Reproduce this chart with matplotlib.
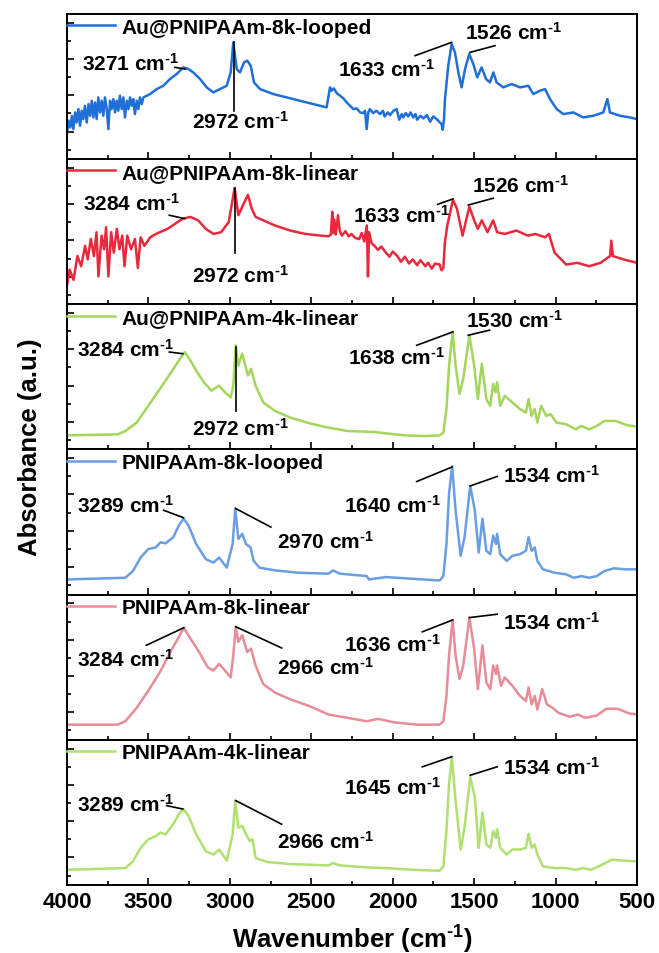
import matplotlib
matplotlib.use('Agg')
import matplotlib.pyplot as plt
from matplotlib.ticker import FixedLocator, MultipleLocator

plt.rcParams.update({
    'font.family': ['Liberation Sans', 'DejaVu Sans'],
    'font.weight': 'bold',
    'mathtext.fontset': 'custom',
    'mathtext.rm': 'Liberation Sans:bold',
    'mathtext.bf': 'Liberation Sans:bold',
    'mathtext.it': 'Liberation Sans:bold:italic',
    'axes.linewidth': 1.4,
})

labels = ['Au@PNIPAAm-8k-looped', 'Au@PNIPAAm-8k-linear', 'Au@PNIPAAm-4k-linear',
          'PNIPAAm-8k-looped', 'PNIPAAm-8k-linear', 'PNIPAAm-4k-linear']
colors = ['#1f6fd8', '#e8283c', '#a3d65a', '#6a9ee2', '#e88c98', '#b0e070']
x_ticks = [4000, 3500, 3000, 2500, 2000, 1500, 1000, 500]

# ---- spectra (wavenumber, absorbance in arbitrary units) ----
wn_au8k_looped = [4000, 3990, 3980, 3970, 3961, 3950, 3941, 3930, 3920, 3910, 3900, 3890, 3879, 3868,
                  3858, 3848, 3838, 3828, 3818, 3808, 3797, 3787, 3777, 3767, 3756, 3746, 3736, 3726,
                  3715, 3705, 3695, 3685, 3675, 3664, 3654, 3644, 3633, 3623, 3613, 3603, 3593, 3583,
                  3572, 3562, 3552, 3541, 3531, 3490, 3449, 3408, 3368, 3327, 3286, 3255, 3225,
                  3183, 3142, 3102, 3061, 3019, 2995, 2979, 2958, 2938, 2913, 2893, 2872, 2852, 2815,
                  2733, 2651, 2569, 2488, 2406, 2385, 2375, 2362, 2344, 2324, 2303, 2283, 2262, 2242,
                  2221, 2200, 2181, 2170, 2160, 2150, 2140, 2120, 2100, 2078, 2060, 2050, 2030, 2017,
                  1995, 1976, 1960, 1945, 1935, 1920, 1905, 1890, 1874, 1860, 1850, 1830, 1812, 1790,
                  1770, 1751, 1730, 1715, 1700, 1693, 1685, 1679, 1659, 1638, 1618, 1597, 1577, 1556,
                  1530, 1505, 1481, 1454, 1427, 1403, 1382, 1362, 1321, 1270, 1218, 1167, 1137, 1096,
                  1065, 1034, 993, 952, 891, 830, 768, 707, 682, 666, 604, 543, 500]
ab_au8k_looped = [80, 115, 95, 130, 90, 140, 110, 150, 100, 145, 120, 160, 110, 165,
                  130, 175, 125, 170, 120, 185, 140, 175, 130, 185, 150, 90, 175, 150,
                  180, 140, 175, 145, 190, 150, 185, 125, 175, 150, 185, 160, 180, 135,
                  175, 150, 185, 165, 185, 195, 210, 220, 240, 255, 275, 270, 260,
                  240, 215, 200, 210, 220, 260, 350, 270, 260, 290, 295, 280, 230, 210,
                  195, 185, 175, 165, 155, 215, 205, 212, 198, 190, 182, 170, 160, 150,
                  152, 140, 138, 145, 90, 140, 150, 138, 145, 135, 145, 128, 140, 132,
                  145, 150, 118, 135, 125, 138, 128, 140, 125, 135, 118, 130, 122, 132,
                  112, 128, 120, 112, 105, 88, 120, 180, 280, 345, 320, 260, 215, 270,
                  315, 285, 245, 275, 240, 230, 260, 230, 215, 225, 215, 220, 195, 205,
                  210, 180, 150, 135, 140, 125, 130, 140, 180, 140, 130, 125, 120]

wn_au8k_linear = [4000, 3984, 3960, 3936, 3913, 3889, 3873, 3854, 3835, 3819, 3807, 3788, 3772, 3760,
                  3746, 3729, 3713, 3694, 3678, 3661, 3647, 3630, 3607, 3583, 3565, 3548, 3525, 3489,
                  3454, 3430, 3383, 3336, 3289, 3242, 3195, 3148, 3101, 3054, 3007, 2971, 2948, 2924,
                  2889, 2866, 2842, 2795, 2724, 2630, 2536, 2442, 2395, 2380, 2371, 2365, 2360, 2350,
                  2336, 2325, 2312, 2290, 2270, 2254, 2230, 2206, 2190, 2175, 2159, 2152, 2145, 2130,
                  2112, 2090, 2070, 2042, 2020, 2000, 1971, 1950, 1925, 1900, 1877, 1850, 1830, 1800,
                  1783, 1760, 1740, 1712, 1700, 1689, 1680, 1665, 1630, 1606, 1571, 1547, 1529, 1500,
                  1477, 1453, 1418, 1383, 1359, 1312, 1241, 1171, 1124, 1065, 1041, 1006, 935, 865,
                  794, 724, 665, 658, 648, 582, 500]
ab_au8k_linear = [57, 102, 72, 142, 112, 172, 132, 192, 142, 212, 82, 202, 162, 227,
                  82, 212, 152, 222, 162, 202, 112, 202, 162, 192, 107, 197, 172, 197,
                  207, 212, 222, 237, 252, 257, 247, 222, 207, 212, 242, 342, 262, 287,
                  322, 282, 257, 247, 232, 217, 207, 202, 200, 205, 272, 210, 250, 205,
                  262, 215, 202, 215, 200, 207, 195, 192, 210, 185, 232, 82, 212, 180,
                  172, 160, 170, 152, 140, 155, 142, 125, 140, 120, 132, 115, 130, 112,
                  122, 105, 120, 117, 100, 107, 180, 232, 307, 282, 202, 252, 287, 247,
                  222, 247, 212, 247, 212, 207, 217, 202, 207, 197, 207, 152, 117, 122,
                  112, 122, 142, 187, 142, 132, 122]

wn_au4k_linear = [4000, 3689, 3642, 3572, 3501, 3430, 3360, 3313, 3277, 3242, 3207, 3160, 3113, 3066,
                  3030, 2995, 2979, 2964, 2948, 2924, 2889, 2870, 2842, 2795, 2724, 2630, 2512, 2395,
                  2277, 2112, 2042, 1924, 1806, 1712, 1689, 1670, 1654, 1632, 1614, 1590, 1567, 1529,
                  1500, 1477, 1453, 1425, 1401, 1383, 1369, 1359, 1340, 1312, 1265, 1218, 1182, 1166,
                  1147, 1128, 1112, 1088, 1058, 1030, 994, 935, 877, 841, 794, 747, 700, 630, 559, 500]
ab_au4k_linear = [42, 45, 55, 80, 130, 180, 230, 265, 290, 265, 235, 200, 175, 190,
                  170, 155, 190, 310, 250, 285, 220, 240, 190, 140, 115, 95, 78, 65,
                  55, 52, 48, 42, 40, 42, 50, 120, 250, 350, 250, 165, 210, 340,
                  250, 150, 255, 150, 130, 195, 170, 200, 130, 160, 140, 120, 110, 150,
                  100, 120, 80, 130, 100, 105, 80, 75, 60, 70, 60, 70, 85, 85, 72, 68]

wn_p8k_looped = [4000, 3642, 3595, 3548, 3501, 3454, 3426, 3395, 3348, 3313, 3285, 3254, 3207, 3148,
                 3101, 3066, 3019, 2983, 2967, 2948, 2924, 2901, 2873, 2854, 2818, 2724, 2583, 2395,
                 2367, 2324, 2159, 2147, 2042, 1877, 1712, 1689, 1670, 1654, 1635, 1614, 1583, 1559,
                 1524, 1496, 1472, 1449, 1425, 1401, 1383, 1366, 1359, 1340, 1300, 1265, 1218, 1182,
                 1166, 1147, 1128, 1112, 1077, 1006, 935, 888, 841, 794, 747, 700, 641, 571, 500]
ab_p8k_looped = [45, 50, 70, 110, 135, 140, 155, 152, 170, 205, 225, 205, 150, 105,
                 95, 110, 80, 150, 255, 165, 180, 150, 140, 100, 80, 72, 65, 62,
                 72, 62, 55, 45, 52, 47, 42, 55, 150, 300, 380, 250, 115, 170,
                 322, 250, 125, 225, 130, 120, 175, 150, 180, 120, 100, 115, 120, 130,
                 170, 130, 140, 100, 75, 65, 60, 50, 55, 50, 55, 70, 78, 75, 75]

wn_p8k_linear = [4000, 3689, 3642, 3572, 3501, 3430, 3360, 3313, 3283, 3242, 3195, 3136, 3101, 3066,
                 3030, 2995, 2979, 2964, 2948, 2924, 2894, 2870, 2842, 2795, 2724, 2630, 2512, 2395,
                 2277, 2159, 2089, 1995, 1853, 1712, 1689, 1670, 1654, 1632, 1614, 1590, 1567, 1529,
                 1500, 1477, 1449, 1425, 1401, 1383, 1366, 1359, 1335, 1312, 1265, 1218, 1182, 1166,
                 1147, 1128, 1112, 1082, 1053, 1018, 983, 912, 865, 818, 747, 688, 618, 547, 500]
ab_p8k_linear = [45, 45, 55, 95, 145, 200, 265, 305, 332, 300, 265, 215, 205, 225,
                 205, 185, 250, 335, 290, 310, 260, 270, 220, 165, 140, 120, 100, 75,
                 65, 55, 62, 52, 45, 45, 55, 130, 250, 355, 250, 180, 220, 362,
                 270, 150, 280, 170, 150, 220, 195, 220, 160, 185, 160, 130, 115, 155,
                 105, 130, 90, 150, 105, 95, 80, 68, 75, 65, 72, 92, 92, 78, 75]

wn_p4k_linear = [4000, 3642, 3595, 3548, 3501, 3454, 3426, 3395, 3348, 3313, 3285, 3254, 3207, 3148,
                 3101, 3066, 3019, 2983, 2967, 2948, 2924, 2901, 2877, 2861, 2842, 2771, 2630, 2395,
                 2367, 2324, 2159, 2042, 1877, 1712, 1689, 1670, 1654, 1637, 1614, 1583, 1559, 1524,
                 1496, 1472, 1449, 1425, 1401, 1383, 1366, 1359, 1340, 1300, 1265, 1218, 1182, 1166,
                 1147, 1128, 1112, 1077, 1006, 935, 877, 829, 782, 724, 653, 582, 500]
ab_p4k_linear = [45, 50, 70, 110, 135, 145, 155, 150, 180, 210, 225, 205, 150, 100,
                 90, 105, 72, 150, 250, 170, 175, 150, 130, 135, 80, 68, 62, 58,
                 65, 58, 52, 50, 45, 42, 55, 160, 300, 378, 250, 105, 170, 320,
                 260, 110, 215, 120, 110, 160, 140, 165, 110, 90, 105, 105, 110, 152,
                 110, 120, 90, 55, 50, 50, 45, 50, 45, 58, 75, 72, 70]

spectra = [(wn_au8k_looped, ab_au8k_looped), (wn_au8k_linear, ab_au8k_linear),
           (wn_au4k_linear, ab_au4k_linear), (wn_p8k_looped, ab_p8k_looped),
           (wn_p8k_linear, ab_p8k_linear), (wn_p4k_linear, ab_p4k_linear)]
panel_top = [435, 427, 432, 430, 430, 430]

# annotations: text, text x (wn, left edge), text y, leader line x0, y0, x1, y1
annotations = [
    [('3271', 3910, 290, 3337, 275, 3275, 270),
     ('2972', 3234, 115, 2975, 350, 2975, 145),
     ('1633', 2334, 270, 1863, 310, 1638, 350),
     ('1526', 1556, 380, 1525, 320, 1372, 340)],
    [('3284', 3901, 297, 3372, 262, 3277, 252),
     ('2972', 3230, 87, 2968, 342, 2968, 152),
     ('1633', 2242, 262, 1724, 294, 1630, 310),
     ('1526', 1512, 352, 1536, 292, 1383, 312)],
    [('3284', 3936, 300, 3372, 290, 3289, 285),
     ('2972', 3230, 65, 2962, 305, 2962, 115),
     ('1638', 2277, 275, 1853, 310, 1630, 350),
     ('1530', 1547, 385, 1536, 340, 1406, 355)],
    [('3289', 3936, 265, 3407, 250, 3285, 228),
     ('2970', 2712, 160, 2964, 255, 2748, 200),
     ('1640', 2301, 265, 1853, 335, 1636, 378),
     ('1534', 1324, 355, 1524, 322, 1359, 350)],
    [('3284', 3936, 240, 3513, 280, 3283, 332),
     ('2966', 2712, 215, 2964, 335, 2682, 272),
     ('1636', 2301, 285, 1818, 320, 1632, 355),
     ('1534', 1324, 350, 1529, 362, 1359, 372)],
    [('3289', 3936, 240, 3388, 235, 3289, 225),
     ('2966', 2712, 130, 2964, 250, 2682, 180),
     ('1645', 2301, 290, 1818, 350, 1637, 380),
     ('1534', 1324, 350, 1524, 325, 1359, 350)],
]

fig = plt.figure(figsize=(6.59, 9.54), dpi=100)
gs = fig.add_gridspec(6, 1, left=0.1017, right=0.9666, top=0.9843, bottom=0.0713, hspace=0)
axes = [fig.add_subplot(gs[i]) for i in range(6)]

for i, ax in enumerate(axes):
    wn, ab = spectra[i]
    H = panel_top[i]
    ax.plot(wn, ab, color=colors[i], lw=1.8, label=labels[i])
    ax.set_xlim(4000, 500)
    ax.set_ylim(0, H)
    ax.xaxis.set_major_locator(FixedLocator(x_ticks))
    ax.xaxis.set_minor_locator(MultipleLocator(250))
    ax.yaxis.set_major_locator(FixedLocator([f * H for f in (0.19, 0.44, 0.69, 0.94)]))
    ax.yaxis.set_minor_locator(FixedLocator([f * H for f in (0.065, 0.315, 0.565, 0.815)]))
    ax.tick_params(which='both', direction='in', top=False, right=False, labelleft=False,
                   width=1.2)
    ax.tick_params(which='major', length=5)
    ax.tick_params(which='minor', length=3)
    if i < 5:
        ax.tick_params(labelbottom=False)
    else:
        ax.tick_params(axis='x', labelsize=16, pad=4)
        for t in ax.get_xticklabels():
            t.set_fontweight('bold')
    ax.legend(loc='upper left', bbox_to_anchor=(0.0, 0.975), frameon=False,
              handlelength=2.3, handletextpad=0.3, borderaxespad=0.0, borderpad=0.0,
              prop={'weight': 'bold', 'size': 15})
    for (txt, tx, ty, x0, y0, x1, y1) in annotations[i]:
        ax.plot([x0, x1], [y0, y1], color='black', lw=1.2)
        ax.text(tx, ty, txt + r' cm$^{\text{-1}}$', fontsize=15, fontweight='bold',
                ha='left', va='center')

axes[-1].set_xlabel(r'Wavenumber (cm$^{\text{-1}}$)', fontsize=18.5, fontweight='bold',
                    labelpad=8)
fig.text(0.045, 0.531, 'Absorbance (a.u.)', rotation=90, fontsize=18.5, fontweight='bold',
         ha='center', va='center')

fig.savefig('out.png', dpi=100)
